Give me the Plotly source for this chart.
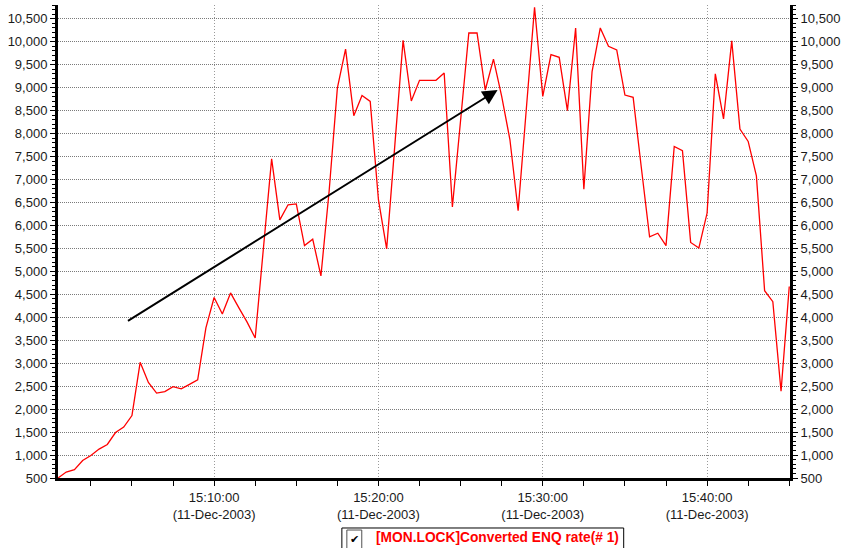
import pandas as pd
import plotly.graph_objects as go

# Sampled every 30 seconds on 11-Dec-2003
start_time = "2003-12-11 15:00:30"
sample_seconds = 30
enq_rate = [
    500, 630, 680, 880, 990, 1130, 1230, 1490, 1610, 1860,
    3020, 2580, 2350, 2380, 2490, 2440, 2540, 2640, 3770, 4430,
    4070, 4530, 4210, 3900, 3550, 5500, 7450, 6120, 6450, 6470,
    5560, 5700, 4900, 6750, 8990, 9840, 8390, 8830, 8700, 6560,
    5490, 7760, 10030, 8710, 9160, 9160, 9160, 9320, 6400, 8290,
    10190, 10190, 8950, 9620, 8810, 7870, 6320, 8540, 10750, 8810,
    9720, 9660, 8500, 10300, 6790, 9350, 10300, 9900, 9820, 8840,
    8790, 7250, 5750, 5830, 5560, 7720, 7630, 5630, 5510, 6270,
    9300, 8320, 10020, 8100, 7830, 7080, 4580, 4340, 2390, 4670,
]
times = pd.date_range(start_time, periods=len(enq_rate), freq=f"{sample_seconds}s")

series_name = "[MON.LOCK]Converted ENQ rate(# 1)"
tick_times = ["2003-12-11 15:10:00", "2003-12-11 15:20:00",
              "2003-12-11 15:30:00", "2003-12-11 15:40:00"]
tick_text = ["15:10:00<br>(11-Dec-2003)", "15:20:00<br>(11-Dec-2003)",
             "15:30:00<br>(11-Dec-2003)", "15:40:00<br>(11-Dec-2003)"]
x_range = ["2003-12-11 15:00:30", "2003-12-11 15:45:02.7"]
y_range = [500, 10800]

# Trend arrow (tail -> head)
trend_tail = ("2003-12-11 15:04:40", 3900)
trend_head = ("2003-12-11 15:27:15", 8950)

FONT = "Liberation Sans, Arial, sans-serif"
TEXT = "#1a1a1a"

fig = go.Figure()
fig.add_trace(go.Scatter(
    x=times, y=enq_rate, mode="lines", name=series_name,
    line=dict(color="#ff0000", width=1.3), showlegend=False,
))
# empty trace to carry the right-hand value axis
fig.add_trace(go.Scatter(x=[], y=[], yaxis="y2", showlegend=False, hoverinfo="skip"))

yaxis_common = dict(
    range=y_range, tickmode="linear", tick0=500, dtick=500, tickformat=",d",
    ticks="outside", ticklen=5, tickwidth=1, tickcolor="black",
    showline=True, linecolor="black", linewidth=3,
    minor=dict(dtick=100, ticks="outside", ticklen=3, tickcolor="black", showgrid=False),
    tickfont=dict(family=FONT, size=13, color=TEXT),
    zeroline=False, fixedrange=True,
)

fig.update_layout(
    width=845, height=548,
    margin=dict(l=58, r=52, t=5, b=70),
    paper_bgcolor="white", plot_bgcolor="white",
    xaxis=dict(
        type="date", range=x_range,
        tickvals=tick_times, ticktext=tick_text,
        ticks="outside", ticklen=5, tickcolor="black",
        showline=True, linecolor="black", linewidth=3,
        showgrid=True, gridcolor="#9a9a9a", gridwidth=1, griddash="1px,2px",
        minor=dict(dtick=150000, tick0="2003-12-11 15:00:00", ticks="outside",
                   ticklen=5, tickcolor="black", showgrid=False),
        tickfont=dict(family=FONT, size=13, color=TEXT),
        zeroline=False, fixedrange=True,
    ),
    yaxis=dict(
        **yaxis_common,
        showgrid=True, gridcolor="#7a7a7a", gridwidth=1, griddash="1px,1px",
    ),
    yaxis2=dict(
        **yaxis_common,
        overlaying="y", side="right", showgrid=False,
    ),
    annotations=[
        dict(
            x=trend_head[0], y=trend_head[1], xref="x", yref="y",
            ax=trend_tail[0], ay=trend_tail[1], axref="x", ayref="y",
            text="", showarrow=True, arrowhead=2, arrowsize=1.5,
            arrowwidth=2, arrowcolor="black", standoff=0, startstandoff=0,
        ),
        # legend entry
        dict(
            x=0.4313, y=-0.1258, xref="paper", yref="paper",
            xanchor="left", yanchor="middle", showarrow=False,
            text="<b>" + series_name + "</b>",
            font=dict(family=FONT, size=13.75, color="#ff0000"),
        ),
        dict(
            x=0.4048, y=-0.1300, xref="paper", yref="paper",
            xanchor="center", yanchor="middle", showarrow=False,
            text="<b>✔</b>", font=dict(family="DejaVu Sans", size=11, color="black"),
        ),
    ],
    shapes=[
        # legend frame
        dict(type="rect", xref="paper", yref="paper",
             x0=0.3878, x1=0.7728, y0=-0.1057, y1=-0.1560,
             line=dict(color="black", width=1), fillcolor="rgba(0,0,0,0)"),
        # checkbox
        dict(type="rect", xref="paper", yref="paper",
             x0=0.3946, x1=0.4150, y0=-0.1100, y1=-0.1500,
             line=dict(color="#505050", width=1), fillcolor="white"),
    ],
)

fig.write_html("out.html")
